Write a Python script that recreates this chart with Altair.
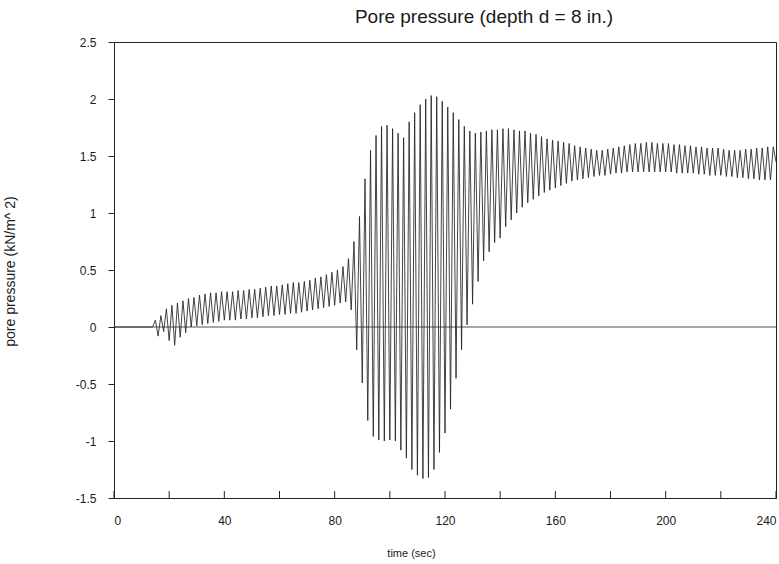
import altair as alt
import numpy as np
import pandas as pd

# quiet start (before the shaking begins)
START_T = [0.0, 13.0]
START_V = [0.0, 0.0]

# oscillation: troughs at t = 14, 16, ..., 238 ; peaks at t = 15, 17, ..., 239
TROUGHS = [
    0.00, -0.08, -0.04, -0.12, -0.16, -0.09, -0.05, 0.00, 0.01, 0.02,   # 14-32
    0.03, 0.04, 0.05, 0.06, 0.06, 0.06, 0.07, 0.07, 0.08, 0.08,          # 34-52
    0.09, 0.10, 0.10, 0.11, 0.11, 0.12, 0.12, 0.13, 0.14, 0.15,          # 54-72
    0.16, 0.17, 0.18, 0.19, 0.21, 0.22, 0.15, -0.20, -0.49, -0.82,       # 74-92
    -0.96, -0.99, -1.00, -0.99, -1.00, -1.08, -1.15, -1.25, -1.30, -1.33,  # 94-112
    -1.32, -1.25, -1.10, -0.93, -0.72, -0.45, -0.20, 0.02, 0.20, 0.40,   # 114-132
    0.58, 0.66, 0.74, 0.78, 0.88, 0.94, 1.00, 1.05, 1.09, 1.12,          # 134-152
    1.15, 1.18, 1.20, 1.22, 1.24, 1.26, 1.28, 1.29, 1.30, 1.31,          # 154-172
    1.32, 1.33, 1.33, 1.34, 1.35, 1.35, 1.36, 1.36, 1.36, 1.36,          # 174-192
    1.36, 1.36, 1.36, 1.36, 1.36, 1.35, 1.35, 1.35, 1.35, 1.34,          # 194-212
    1.34, 1.33, 1.33, 1.33, 1.32, 1.32, 1.31, 1.31, 1.30, 1.30,          # 214-232
    1.29, 1.29, 1.29,                                                    # 234-238
]
PEAKS = [
    0.06, 0.10, 0.16, 0.19, 0.21, 0.23, 0.25, 0.26, 0.28, 0.29,          # 15-33
    0.30, 0.30, 0.31, 0.31, 0.31, 0.32, 0.32, 0.33, 0.33, 0.34,          # 35-53
    0.35, 0.36, 0.36, 0.37, 0.38, 0.39, 0.39, 0.40, 0.41, 0.43,          # 55-73
    0.44, 0.46, 0.48, 0.50, 0.53, 0.60, 0.75, 0.97, 1.30, 1.55,          # 75-93
    1.68, 1.76, 1.77, 1.74, 1.70, 1.66, 1.80, 1.88, 1.95, 2.00,          # 95-113
    2.03, 2.02, 1.98, 1.93, 1.88, 1.82, 1.76, 1.72, 1.70, 1.71,          # 115-133
    1.72, 1.73, 1.73, 1.74, 1.74, 1.73, 1.72, 1.72, 1.70, 1.69,          # 135-153
    1.67, 1.65, 1.64, 1.63, 1.62, 1.61, 1.59, 1.58, 1.57, 1.56,          # 155-173
    1.55, 1.55, 1.56, 1.57, 1.58, 1.59, 1.60, 1.61, 1.61, 1.62,          # 175-193
    1.62, 1.61, 1.61, 1.61, 1.60, 1.60, 1.59, 1.59, 1.58, 1.58,          # 195-213
    1.57, 1.57, 1.57, 1.56, 1.55, 1.55, 1.55, 1.56, 1.56, 1.57,          # 215-233
    1.57, 1.58, 1.58,                                                    # 235-239
]
END_T = [240.0]
END_V = [1.45]

X_TICKS = [0, 20, 40, 60, 80, 100, 120, 140, 160, 180, 200, 220, 240]
X_LABELS = [0, 40, 80, 120, 160, 200, 240]
Y_TICKS = [-1.5, -1, -0.5, 0, 0.5, 1, 1.5, 2, 2.5]

n = min(len(TROUGHS), len(PEAKS))
trough_t = np.arange(n) * 2.0 + 14.0
peak_t = trough_t + 1.0
t_osc = np.empty(2 * n)
v_osc = np.empty(2 * n)
t_osc[0::2] = trough_t
t_osc[1::2] = peak_t
v_osc[0::2] = TROUGHS[:n]
v_osc[1::2] = PEAKS[:n]

t_all = np.concatenate([START_T, t_osc, END_T])
v_all = np.concatenate([START_V, v_osc, END_V])
df = pd.DataFrame({"t": t_all, "p": v_all, "order": np.arange(len(t_all))})

FONT = "Liberation Sans"

x_scale = alt.Scale(domain=[0, 240], nice=False, zero=False)
y_scale = alt.Scale(domain=[-1.5, 2.5], nice=False, zero=False)

label_expr = "datum.value < 0 ? '-' + format(-datum.value, '~g') : format(datum.value, '~g')"

line = alt.Chart(df).mark_line(color="#222", strokeWidth=0.85, clip=True).encode(
    x=alt.X("t:Q", scale=x_scale,
            axis=alt.Axis(title="time (sec)", values=X_LABELS, ticks=False,
                          labelPadding=17, labelFontSize=12, labelExpr=label_expr,
                          titleX=297, titleY=55, titleAlign="center", titleBaseline="middle",
                          titleFontSize=11)),
    y=alt.Y("p:Q", scale=y_scale,
            axis=alt.Axis(title="pore pressure (kN/m^ 2)", values=Y_TICKS, tickSize=6,
                          labelPadding=12, labelFontSize=12, labelExpr=label_expr,
                          titleX=-104, titleY=229, titleAngle=270, titleFontSize=14,
                          titleAlign="center", titleBaseline="middle")),
    order="order:Q",
)

zero = alt.Chart(pd.DataFrame({"y": [0.0]})).mark_rule(color="#222", strokeWidth=0.8).encode(
    y=alt.Y("y:Q", scale=y_scale)
)

xt = alt.Chart(pd.DataFrame({"x": X_TICKS})).mark_rule(color="#222", strokeWidth=1).encode(
    x=alt.X("x:Q", scale=x_scale),
    y=alt.value(456),
    y2=alt.value(449),
)

chart = alt.layer(zero, line, xt).properties(
    width=662,
    height=456,
    autosize="none",
    padding={"left": 114, "top": 42, "right": 3, "bottom": 66},
    title=alt.Title("Pore pressure (depth d = 8 in.)", fontSize=19, fontWeight="normal",
                    font=FONT, color="#1a1a1a", offset=9, anchor="middle", dx=39),
).configure_view(
    stroke="#222", strokeWidth=1
).configure_axis(
    grid=False, domainColor="#222", tickColor="#222", labelColor="#1a1a1a",
    titleColor="#1a1a1a", labelFont=FONT, titleFont=FONT,
    titleFontWeight="normal"
)

chart.save("out.html", embed_options={"renderer": "svg", "actions": False})
